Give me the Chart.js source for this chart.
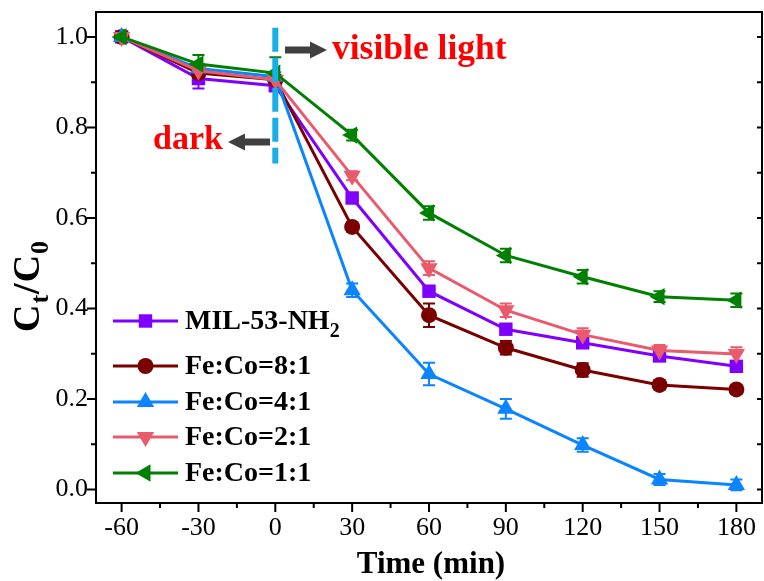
<!DOCTYPE html>
<html><head><meta charset="utf-8">
<script src="https://cdn.jsdelivr.net/npm/chart.js@4"></script>
<style>html,body{margin:0;padding:0;background:#fff;} #wrap{width:764px;height:581px;}</style>
</head><body><div id="wrap"><canvas id="c" width="764" height="581"></canvas></div>
<script>
// ---- data ----
const times = [-60, -30, 0, 30, 60, 90, 120, 150, 180];
const xTickValues = [-60, -30, 0, 30, 60, 90, 120, 150, 180];
const xTickLabels = ['-60', '-30', '0', '30', '60', '90', '120', '150', '180'];
const xMinorValues = [-45, -15, 15, 45, 75, 105, 135, 165];
const yTickValues = [0, 0.2, 0.4, 0.6, 0.8, 1.0];
const yTickLabels = ['0.0', '0.2', '0.4', '0.6', '0.8', '1.0'];
const yMinorValues = [0.1, 0.3, 0.5, 0.7, 0.9];
const seriesNames = ['MIL-53-NH', 'Fe:Co=8:1', 'Fe:Co=4:1', 'Fe:Co=2:1', 'Fe:Co=1:1'];
const milValues  = [1.0, 0.908, 0.892, 0.644, 0.438, 0.354, 0.324, 0.295, 0.272];
const fe81Values = [1.0, 0.920, 0.905, 0.580, 0.385, 0.313, 0.264, 0.231, 0.221];
const fe41Values = [1.0, 0.930, 0.912, 0.440, 0.255, 0.178, 0.098, 0.022, 0.010];
const fe21Values = [1.0, 0.925, 0.905, 0.693, 0.489, 0.396, 0.342, 0.307, 0.299];
const fe11Values = [1.0, 0.940, 0.920, 0.783, 0.611, 0.517, 0.470, 0.426, 0.418];
const milErr  = [0.005, 0.022, 0.010, 0.010, 0.010, 0.010, 0.010, 0.010, 0.010];
const fe81Err = [0.005, 0.015, 0.010, 0.010, 0.026, 0.015, 0.015, 0.010, 0.010];
const fe41Err = [0.005, 0.010, 0.010, 0.015, 0.025, 0.022, 0.015, 0.012, 0.012];
const fe21Err = [0.005, 0.015, 0.010, 0.010, 0.015, 0.015, 0.014, 0.012, 0.015];
const fe11Err = [0.005, 0.020, 0.035, 0.012, 0.015, 0.015, 0.015, 0.012, 0.015];

const SERIF = "'Liberation Serif', 'Times New Roman', 'DejaVu Serif', serif";
const colors = ['#8000ff', '#7a0000', '#0a84ff', '#e85a6c', '#008000'];
const styles = [
  {pointStyle: 'rect', radius: 9.5, rotation: 0},
  {pointStyle: 'circle', radius: 8, rotation: 0},
  {pointStyle: 'triangle', radius: 10, rotation: 0},
  {pointStyle: 'triangle', radius: 10, rotation: 180},
  {pointStyle: 'triangle', radius: 10, rotation: -90}
];
const allValues = [milValues, fe81Values, fe41Values, fe21Values, fe11Values];
const allErr = [milErr, fe81Err, fe41Err, fe21Err, fe11Err];
const drawOrder = [5, 4, 3, 2, 1];

const datasets = allValues.map((vals, i) => ({
  label: seriesNames[i],
  data: times.map((t, j) => ({x: t, y: vals[j]})),
  borderColor: colors[i],
  backgroundColor: colors[i],
  borderWidth: 3,
  pointStyle: styles[i].pointStyle,
  pointRadius: styles[i].radius,
  pointRotation: styles[i].rotation,
  pointBorderWidth: 0,
  pointBackgroundColor: colors[i],
  tension: 0,
  order: drawOrder[i]
}));

function drawMarker(ctx, st, color, x, y) {
  ctx.save();
  ctx.fillStyle = color;
  ctx.strokeStyle = color;
  Chart.helpers.drawPoint(ctx, {pointStyle: st.pointStyle, radius: st.radius, rotation: st.rotation, borderWidth: 0}, x, y);
  ctx.restore();
}

const errorBars = {
  id: 'errorBars',
  beforeDatasetsDraw(chart) {
    const ctx = chart.ctx, xs = chart.scales.x, ys = chart.scales.y;
    ctx.save();
    ctx.lineWidth = 2;
    for (let i = allValues.length - 1; i >= 0; i--) {
      ctx.strokeStyle = colors[i];
      allValues[i].forEach((v, j) => {
        const x = xs.getPixelForValue(times[j]);
        const y1 = ys.getPixelForValue(v + allErr[i][j]);
        const y2 = ys.getPixelForValue(v - allErr[i][j]);
        ctx.beginPath();
        ctx.moveTo(x, y1); ctx.lineTo(x, y2);
        ctx.moveTo(x - 6, y1); ctx.lineTo(x + 6, y1);
        ctx.moveTo(x - 6, y2); ctx.lineTo(x + 6, y2);
        ctx.stroke();
      });
    }
    ctx.restore();
  }
};

function arrow(ctx, xTail, xTip, y) {
  const dir = Math.sign(xTip - xTail);
  const headLen = 17, headHalf = 8.5, shaftHalf = 3.5;
  const xHead = xTip - dir * headLen;
  ctx.save();
  ctx.fillStyle = '#404040';
  ctx.beginPath();
  ctx.moveTo(xTail, y - shaftHalf);
  ctx.lineTo(xHead, y - shaftHalf);
  ctx.lineTo(xHead, y - headHalf);
  ctx.lineTo(xTip, y);
  ctx.lineTo(xHead, y + headHalf);
  ctx.lineTo(xHead, y + shaftHalf);
  ctx.lineTo(xTail, y + shaftHalf);
  ctx.closePath();
  ctx.fill();
  ctx.restore();
}

const decor = {
  id: 'decor',
  afterDatasetsDraw(chart) {
    const ctx = chart.ctx, xs = chart.scales.x, ys = chart.scales.y;
    const x0 = xs.getPixelForValue(0);
    ctx.save();
    ctx.strokeStyle = '#19aee6';
    ctx.lineWidth = 6;
    ctx.setLineDash([24, 6]);
    ctx.beginPath();
    ctx.moveTo(x0, ys.getPixelForValue(1.02));
    ctx.lineTo(x0, ys.getPixelForValue(0.72));
    ctx.stroke();
    ctx.restore();
  },
  afterDraw(chart) {
    const ctx = chart.ctx, a = chart.chartArea, xs = chart.scales.x, ys = chart.scales.y;
    ctx.save();
    // frame and ticks
    ctx.strokeStyle = '#000';
    ctx.lineWidth = 2;
    ctx.strokeRect(a.left, a.top, a.right - a.left, a.bottom - a.top);
    ctx.beginPath();
    xTickValues.forEach(v => { const x = xs.getPixelForValue(v); ctx.moveTo(x, a.bottom); ctx.lineTo(x, a.bottom + 9); });
    xMinorValues.forEach(v => { const x = xs.getPixelForValue(v); ctx.moveTo(x, a.bottom); ctx.lineTo(x, a.bottom + 5); });
    yTickValues.forEach(v => { const y = ys.getPixelForValue(v); ctx.moveTo(a.left, y); ctx.lineTo(a.left - 9, y); ctx.moveTo(a.right, y); ctx.lineTo(a.right - 5, y); });
    yMinorValues.forEach(v => { const y = ys.getPixelForValue(v); ctx.moveTo(a.left, y); ctx.lineTo(a.left - 5, y); ctx.moveTo(a.right, y); ctx.lineTo(a.right - 5, y); });
    ctx.stroke();

    // tick labels
    ctx.fillStyle = '#000';
    ctx.font = '26px ' + SERIF;
    ctx.textBaseline = 'middle';
    ctx.textAlign = 'center';
    xTickValues.forEach((v, k) => ctx.fillText(xTickLabels[k], xs.getPixelForValue(v), a.bottom + 25.5));
    ctx.textAlign = 'right';
    yTickValues.forEach((v, k) => ctx.fillText(yTickLabels[k], a.left - 8, ys.getPixelForValue(v)));

    // annotations
    arrow(ctx, 285, 327, 50);
    arrow(ctx, 270, 228, 142);
    ctx.fillStyle = '#ff0000';
    ctx.textBaseline = 'alphabetic';
    ctx.textAlign = 'left';
    ctx.font = 'bold 35.5px ' + SERIF;
    ctx.fillText('visible light', 332, 59);
    ctx.font = 'bold 34px ' + SERIF;
    ctx.fillText('dark', 153, 149);

    // legend
    const legY = [321, 366, 402, 437, 473];
    ctx.textBaseline = 'middle';
    for (let i = 0; i < seriesNames.length; i++) {
      const y = legY[i];
      ctx.strokeStyle = colors[i];
      ctx.lineWidth = 3;
      ctx.beginPath(); ctx.moveTo(113, y); ctx.lineTo(178, y); ctx.stroke();
      drawMarker(ctx, styles[i], colors[i], 145.5, y);
      ctx.fillStyle = '#000';
      ctx.font = 'bold 28px ' + SERIF;
      ctx.fillText(seriesNames[i], 185, y + 1);
      if (i === 0) {
        const w = ctx.measureText(seriesNames[i]).width;
        ctx.font = 'bold 20px ' + SERIF;
        ctx.fillText('2', 185 + w, y + 11);
      }
    }

    // y axis title  C_t / C_0
    ctx.save();
    ctx.translate(39, 332);
    ctx.rotate(-Math.PI / 2);
    ctx.fillStyle = '#000';
    ctx.textBaseline = 'alphabetic';
    ctx.textAlign = 'left';
    let px = 0;
    const big = 'bold 38px ' + SERIF, small = 'bold 26px ' + SERIF;
    ctx.font = big; ctx.fillText('C', px, 0); px += ctx.measureText('C').width + 1;
    ctx.font = small; ctx.fillText('t', px, 9); px += ctx.measureText('t').width + 1;
    ctx.font = big; ctx.fillText('/', px, 0); px += ctx.measureText('/').width + 1;
    ctx.fillText('C', px, 0); px += ctx.measureText('C').width + 1;
    ctx.font = small; ctx.fillText('0', px, 9);
    ctx.restore();

    // x axis title
    ctx.fillStyle = '#000';
    ctx.font = 'bold 31px ' + SERIF;
    ctx.textAlign = 'center';
    ctx.textBaseline = 'alphabetic';
    ctx.fillText('Time (min)', 431, 573);
    ctx.restore();
  }
};

new Chart(document.getElementById('c'), {
  type: 'line',
  data: {datasets},
  options: {
    responsive: false,
    animation: false,
    devicePixelRatio: 1,
    layout: {autoPadding: false, padding: {top: 12, right: 2, left: 0, bottom: 0}},
    plugins: {legend: {display: false}, tooltip: {enabled: false}},
    scales: {
      x: {
        type: 'linear', min: -70, max: 190,
        afterFit(s) { s.height = 78; s.paddingLeft = 0; s.paddingRight = 0; },
        afterBuildTicks(s) { s.ticks = xTickValues.map(v => ({value: v})); },
        grid: {display: false, drawTicks: false},
        border: {display: false},
        ticks: {display: false}
      },
      y: {
        type: 'linear', min: -0.03, max: 1.055,
        afterFit(s) { s.width = 96; s.paddingTop = 0; s.paddingBottom = 0; },
        afterBuildTicks(s) { s.ticks = yTickValues.map(v => ({value: v})); },
        grid: {display: false, drawTicks: false},
        border: {display: false},
        ticks: {display: false}
      }
    }
  },
  plugins: [errorBars, decor]
});
</script>
</body></html>
